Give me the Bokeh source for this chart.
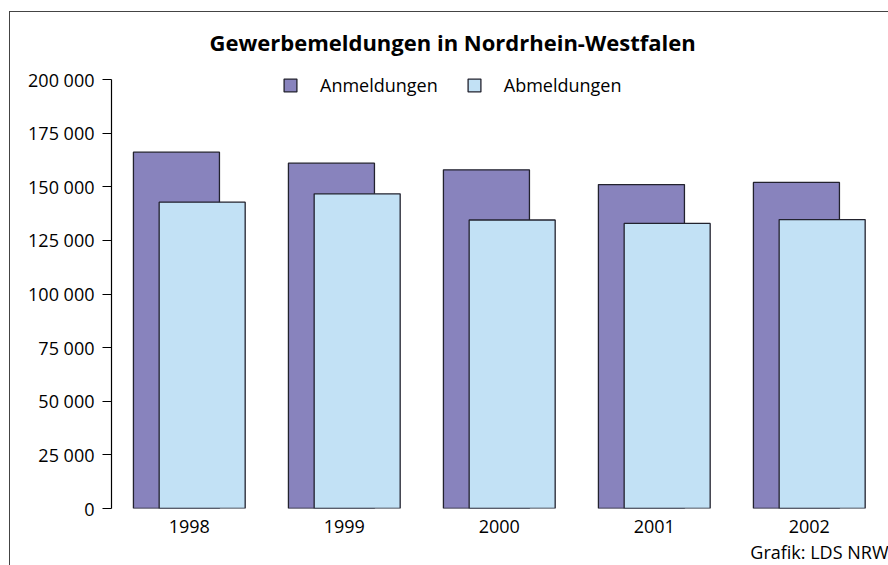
from bokeh.plotting import figure
from bokeh.models import ColumnDataSource, FixedTicker, Legend, LegendItem, Title
from bokeh.transform import dodge
from bokeh.embed import file_html
from bokeh.resources import INLINE

# ---- data ----
years = ["1998", "1999", "2000", "2001", "2002"]
anmeldungen = [166100, 161000, 157900, 151000, 152000]
abmeldungen = [142800, 146700, 134500, 132900, 134700]
y_ticks = [0, 25000, 50000, 75000, 100000, 125000, 150000, 175000, 200000]
y_tick_labels = ["0", "25 000", "50 000", "75 000", "100 000", "125 000",
                 "150 000", "175 000", "200 000"]
title_text = "Gewerbemeldungen in Nordrhein-Westfalen"
source_text = "Grafik: LDS NRW"

FONT = "Open Sans"
ANM_COLOR = "#8883bd"
ABM_COLOR = "#c2e1f5"
EDGE = "#22222e"

Y_MAX = y_ticks[-1]
EXTRA_PX = 9           # free space above the axis for the legend
FRAME_H = 429 + EXTRA_PX

pos = list(range(len(years)))
src = ColumnDataSource(dict(pos=pos, anm=anmeldungen, abm=abmeldungen))

p = figure(frame_width=777, frame_height=FRAME_H,
           x_range=(-0.502, 4.511), y_range=(0, Y_MAX * FRAME_H / 429),
           output_backend="svg", toolbar_location=None,
           min_border_left=101, min_border_top=67 - EXTRA_PX,
           min_border_right=0, min_border_bottom=0)

p.title.text = title_text
p.title.align = "left"
p.title.offset = 98
p.title.standoff = 24
p.title.vertical_align = "top"
p.title.text_font = FONT
p.title.text_font_size = "22px"
p.title.text_font_style = "bold"
p.title.text_color = "black"

r1 = p.vbar(x=dodge("pos", -0.083, range=p.x_range), top="anm", width=0.555,
            bottom=0, source=src, fill_color=ANM_COLOR, line_color=EDGE,
            line_width=1.3)
r2 = p.vbar(x=dodge("pos", 0.083, range=p.x_range), top="abm", width=0.555,
            bottom=0, source=src, fill_color=ABM_COLOR, line_color=EDGE,
            line_width=1.3)

# axes
p.yaxis.ticker = FixedTicker(ticks=y_ticks)
p.yaxis.bounds = (0, Y_MAX)
p.yaxis.major_label_overrides = {t: l for t, l in zip(y_ticks, y_tick_labels)}
p.yaxis.axis_line_color = "black"
p.yaxis.axis_line_width = 1.2
p.yaxis.major_tick_line_color = "black"
p.yaxis.major_tick_line_width = 1.2
p.yaxis.major_tick_out = 9
p.yaxis.major_tick_in = 0
p.yaxis.minor_tick_line_color = None
p.yaxis.major_label_text_font = FONT
p.yaxis.major_label_text_font_size = "18px"
p.yaxis.major_label_text_color = "black"
p.yaxis.major_label_standoff = 8

p.xaxis.ticker = FixedTicker(ticks=pos)
p.xaxis.major_label_overrides = {i: y for i, y in zip(pos, years)}
p.xaxis.axis_line_color = None
p.xaxis.major_tick_line_color = None
p.xaxis.minor_tick_line_color = None
p.xaxis.major_label_text_font = FONT
p.xaxis.major_label_text_font_size = "18px"
p.xaxis.major_label_text_color = "black"
p.xaxis.major_label_standoff = 5

p.xgrid.grid_line_color = None
p.ygrid.grid_line_color = None
p.outline_line_color = None
p.background_fill_color = "white"
p.border_fill_color = "white"

legend = Legend(items=[LegendItem(label="Anmeldungen", renderers=[r1]),
                       LegendItem(label="Abmeldungen", renderers=[r2])],
                orientation="horizontal", location=(171, 411),
                glyph_width=16, glyph_height=16, label_height=16,
                label_standoff=22, spacing=28, padding=0, margin=0,
                border_line_color=None, background_fill_alpha=0,
                label_text_font=FONT, label_text_font_size="18px",
                label_text_color="black")
p.add_layout(legend)

footer = Title(text=source_text, align="right", text_font=FONT,
               text_font_size="18px", text_font_style="normal",
               text_color="black", standoff=5)
p.add_layout(footer, "below")

p.styles = {"margin-left": "9px", "margin-top": "11px",
            "border-left": "1px solid #444", "border-top": "1px solid #444"}

open("out.html", "w").write(file_html(p, INLINE))
